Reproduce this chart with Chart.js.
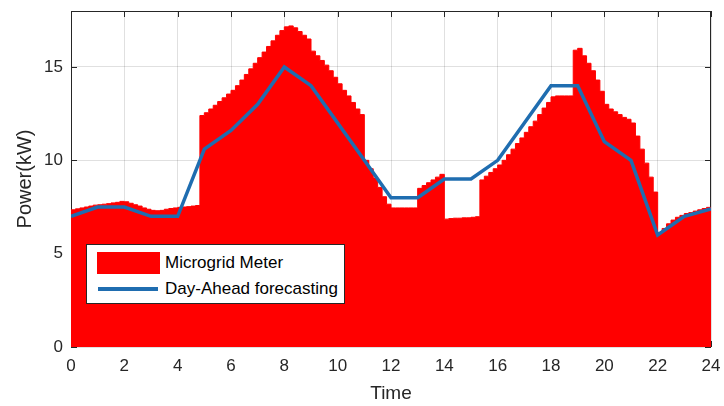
<!DOCTYPE html>
<html>
<head>
<meta charset="utf-8">
<script src="https://cdn.jsdelivr.net/npm/chart.js@4.4.1/dist/chart.umd.min.js"></script>
<style>
  body { margin: 0; background: #fff; }
  #wrap { position: relative; width: 724px; height: 406px; }
  #legend {
    position: absolute; left: 86px; top: 244px; width: 257px; height: 58px;
    background: #fff; border: 1px solid #262626;
    font: 17px "Liberation Sans", Arial, sans-serif; color: #000;
  }
  .swatch { position: absolute; left: 10px; top: 7px; width: 63px; height: 22px; background: #ff0000; }
  .dash { position: absolute; left: 11px; top: 42px; width: 60px; height: 4px; background: #1f6db0; }
  .lbl { position: absolute; left: 78px; line-height: 20px; white-space: nowrap; }
</style>
</head>
<body>
<div id="wrap">
  <canvas id="c" width="724" height="406"></canvas>
  <div id="legend">
    <div class="swatch"></div><div class="lbl" style="top:8px">Microgrid Meter</div>
    <div class="dash"></div><div class="lbl" style="top:34px">Day-Ahead forecasting</div>
  </div>
</div>
<script>
// hourly day-ahead forecast (kW)
const forecastHours = [0,1,2,3,4,5,6,7,8,9,10,11,12,13,14,15,16,17,18,19,20,21,22,23,24];
const forecastKW = [7.0,7.5,7.5,7.0,7.0,10.6,11.6,13.0,15.0,14.0,12.0,10.0,8.0,8.0,9.0,9.0,10.0,12.0,14.0,14.0,11.0,10.0,6.0,7.0,7.4];

// metered power, one value per 10 minutes (6 per hour)
const meterStepHours = 1 / 6;
const meterKW = [
  7.35,7.40,7.45,7.50,7.55,7.60,
  7.62,7.65,7.68,7.72,7.75,7.80,
  7.78,7.70,7.62,7.55,7.45,7.38,
  7.32,7.30,7.32,7.38,7.42,7.45,
  7.48,7.50,7.52,7.55,7.58,12.40,
  12.55,12.75,12.95,13.15,13.35,13.55,
  13.75,14.00,14.30,14.60,14.90,15.20,
  15.50,15.80,16.10,16.40,16.70,16.95,
  17.15,17.20,17.10,16.90,16.70,16.50,
  15.85,15.60,15.35,15.10,14.80,14.45,
  14.10,13.75,13.45,13.10,12.75,12.45,
  10.00,9.55,9.05,8.55,8.05,7.65,
  7.45,7.45,7.45,7.45,7.45,7.45,
  8.50,8.65,8.80,8.95,9.10,9.25,
  6.85,6.88,6.90,6.90,6.92,6.92,
  6.95,6.98,8.95,9.15,9.35,9.55,
  9.75,10.00,10.30,10.60,10.90,11.20,
  11.50,11.80,12.10,12.45,12.80,13.10,
  13.40,13.45,13.45,13.45,13.45,15.90,
  16.00,15.60,15.20,14.80,14.30,13.70,
  13.00,12.75,12.60,12.45,12.30,12.20,
  12.00,11.30,10.60,9.85,9.10,8.30,
  6.10,6.35,6.60,6.80,6.95,7.05,
  7.15,7.20,7.28,7.35,7.42,7.48
];

const xTicks = [0,2,4,6,8,10,12,14,16,18,20,22,24];
const yTicks = [0,5,10,15];

const meterPoints = meterKW.map((v, i) => ({ x: i * meterStepHours, y: v }));
meterPoints.push({ x: 24, y: meterKW[meterKW.length - 1] });
const forecastPoints = forecastHours.map((h, i) => ({ x: h, y: forecastKW[i] }));

const axisColor = "#262626";
const font = "'Liberation Sans', Arial, sans-serif";

// MATLAB-like box with inward ticks, drawn under the data
const boxPlugin = {
  id: "box",
  beforeDatasetsDraw(chart) {
    const { ctx, chartArea: a, scales } = chart;
    ctx.save();
    ctx.strokeStyle = axisColor;
    ctx.lineWidth = 1;
    ctx.strokeRect(a.left + 0.5, a.top + 0.5, a.right - a.left - 1, a.bottom - a.top - 1);
    ctx.beginPath();
    xTicks.forEach(t => {
      const x = Math.round(scales.x.getPixelForValue(t)) + 0.5;
      ctx.moveTo(x, a.bottom); ctx.lineTo(x, a.bottom - 6);
      ctx.moveTo(x, a.top); ctx.lineTo(x, a.top + 6);
    });
    yTicks.forEach(t => {
      const y = Math.round(scales.y.getPixelForValue(t)) + 0.5;
      ctx.moveTo(a.left, y); ctx.lineTo(a.left + 6, y);
      ctx.moveTo(a.right, y); ctx.lineTo(a.right - 6, y);
    });
    ctx.stroke();
    ctx.restore();
  }
};

new Chart(document.getElementById("c"), {
  type: "line",
  data: {
    datasets: [
      {
        label: "Day-Ahead forecasting",
        data: forecastPoints,
        borderColor: "#1f6db0",
        borderWidth: 3.5,
        pointRadius: 0,
        tension: 0,
        fill: false,
        order: 0
      },
      {
        label: "Microgrid Meter",
        data: meterPoints,
        stepped: "before",
        borderColor: "#ff0000",
        borderWidth: 1,
        backgroundColor: "#ff0000",
        pointRadius: 0,
        fill: "origin",
        order: 1
      }
    ]
  },
  options: {
    responsive: false,
    animation: false,
    layout: { padding: { top: 11, right: 13, left: 0, bottom: 0 } },
    plugins: { legend: { display: false }, tooltip: { enabled: false } },
    scales: {
      x: {
        type: "linear",
        min: 0, max: 24,
        afterBuildTicks: s => { s.ticks = xTicks.map(v => ({ value: v })); },
        afterFit: s => { s.height = 59; s.paddingLeft = 0; s.paddingRight = 0; },
        grid: { color: "rgba(0,0,0,0.12)", drawTicks: false },
        border: { display: false },
        ticks: { color: axisColor, padding: 9, maxRotation: 0, font: { family: font, size: 17 } },
        title: { display: true, text: "Time", color: axisColor, padding: { top: 0, bottom: 1 }, font: { family: font, size: 19 } }
      },
      y: {
        min: 0, max: 18,
        afterBuildTicks: s => { s.ticks = yTicks.map(v => ({ value: v })); },
        afterFit: s => { s.width = 71; s.paddingTop = 0; s.paddingBottom = 0; },
        grid: { color: "rgba(0,0,0,0.12)", drawTicks: false },
        border: { display: false },
        ticks: { color: axisColor, padding: 8, font: { family: font, size: 17 } },
        title: { display: true, text: "Power(kW)", color: axisColor, padding: { top: 13, bottom: 0 }, font: { family: font, size: 20 } }
      }
    }
  },
  plugins: [boxPlugin]
});
</script>
</body>
</html>
